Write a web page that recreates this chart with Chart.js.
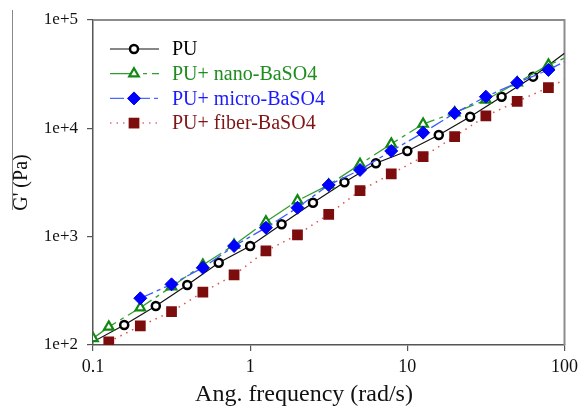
<!DOCTYPE html>
<html>
<head>
<meta charset="utf-8">
<script src="https://cdn.jsdelivr.net/npm/chart.js@4.4.0/dist/chart.umd.min.js"></script>
<style>
  html,body{margin:0;padding:0;background:#fff;}
  #wrap{position:relative;width:583px;height:408px;}
  #edge{position:absolute;left:12px;top:10px;width:1px;height:200px;background:#888;}
</style>
</head>
<body>
<div id="wrap"><canvas id="chart" width="583" height="408"></canvas><div id="edge"></div></div>
<script>
const seriesNames = ['PU', 'PU+ nano-BaSO4', 'PU+ micro-BaSO4', 'PU+ fiber-BaSO4'];
const xTitle = 'Ang. frequency (rad/s)';
const yTitle = "G' (Pa)";

// angular frequency (rad/s) and G' (Pa) per series
const puFreq = [0.1, 0.158, 0.251, 0.398, 0.631, 1, 1.585, 2.51, 3.98, 6.31, 10, 15.85, 25.1, 39.8, 63.1, 100];
const puG    = [107, 153, 229, 358, 575, 820, 1300, 2060, 3180, 4760, 6180, 8690, 12800, 19600, 30000, 49300];

const nanoFreq = [0.1, 0.126, 0.2, 0.316, 0.5, 0.79, 1.26, 2, 3.16, 5, 7.9, 12.6, 20, 31.6, 50, 79, 100];
const nanoG    = [115, 147, 221, 345, 548, 838, 1375, 2150, 3000, 4660, 7180, 10960, 13960, 18300, 26400, 38500, 44400];

const microFreq = [0.2, 0.316, 0.5, 0.79, 1.26, 2, 3.16, 5, 7.9, 12.6, 20, 31.6, 50, 79, 100];
const microG    = [270, 363, 517, 820, 1210, 1850, 3000, 4130, 6180, 9120, 13800, 19600, 26400, 34600, 41300];

const fiberFreq = [0.126, 0.2, 0.316, 0.5, 0.79, 1.26, 2, 3.16, 5, 7.9, 12.6, 20, 31.6, 50, 79, 100];
const fiberG    = [107, 150, 203, 307, 443, 738, 1040, 1610, 2660, 3790, 5480, 8380, 13000, 17700, 23800, 28000];

const xTickValues = [0.1, 1, 10, 100];
const xTickLabels = ['0.1', '1', '10', '100'];
const yTickValues = [100, 1000, 10000, 100000];
const yTickLabels = ['1e+2', '1e+3', '1e+4', '1e+5'];

const SERIF = "'Liberation Serif', 'Times New Roman', serif";

function pts(xs, ys){ return xs.map((x,i)=>({x:x, y:ys[i]})); }
// marker hidden where the line only runs out to the frame
function radiusFn(r, hideFirst){
  return ctx => {
    const n = ctx.dataset.data.length;
    if(ctx.dataIndex === n-1) return 0;
    if(hideFirst && ctx.dataIndex === 0) return 0;
    return r;
  };
}

const markerSize = [4, 5.5, 6.5, 7.6];

const datasets = [
  { label: seriesNames[0], data: pts(puFreq, puG), order: 2,
    borderColor:'#111', borderWidth:1.2,
    pointStyle:'circle', pointRadius: radiusFn(markerSize[0], true), pointBorderWidth:2.5,
    pointBorderColor:'#000', pointBackgroundColor:'#fff',
    legendText:'#000', legendLine:'#111' },
  { label: seriesNames[1], data: pts(nanoFreq, nanoG), order: 1,
    borderColor:'#2f9e2f', borderWidth:1.3, borderDash:[28,5,4,5],
    pointStyle:'triangle', pointRadius: radiusFn(markerSize[1]), pointBorderWidth:2.2,
    pointBorderColor:'#118811', pointBackgroundColor:'#fff',
    legendText:'#1e8c1e', legendLine:'#2f9e2f' },
  { label: seriesNames[2], data: pts(microFreq, microG), order: 0,
    borderColor:'#3a5cff', borderWidth:1.3, borderDash:[14,4,4,4],
    pointStyle:'rectRot', pointRadius: radiusFn(markerSize[2]), pointBorderWidth:1,
    pointBorderColor:'#0000ee', pointBackgroundColor:'#0000ff',
    legendText:'#1a1aff', legendLine:'#4a6aff' },
  { label: seriesNames[3], data: pts(fiberFreq, fiberG), order: 3,
    borderColor:'#d9534f', borderWidth:1.5, borderDash:[1.5,5],
    pointStyle:'rect', pointRadius: radiusFn(markerSize[3]), pointBorderWidth:0,
    pointBorderColor:'#7d0c0c', pointBackgroundColor:'#7d0c0c',
    legendText:'#801515', legendLine:'#e07070' }
];

function drawMarker(ctx, style, x, y, r, fill, stroke, bw){
  ctx.save();
  ctx.beginPath();
  if(style === 'circle'){
    ctx.arc(x, y, r, 0, Math.PI*2);
  }else if(style === 'triangle'){
    for(let k=0;k<3;k++){
      const a = -Math.PI/2 + k*2*Math.PI/3;
      const px = x + Math.cos(a)*r, py = y + Math.sin(a)*r;
      k ? ctx.lineTo(px, py) : ctx.moveTo(px, py);
    }
    ctx.closePath();
  }else if(style === 'rectRot'){
    ctx.moveTo(x, y-r); ctx.lineTo(x+r, y); ctx.lineTo(x, y+r); ctx.lineTo(x-r, y); ctx.closePath();
  }else{
    const s = r*Math.SQRT1_2;
    ctx.rect(x-s, y-s, 2*s, 2*s);
  }
  ctx.fillStyle = fill; ctx.fill();
  if(bw){ ctx.lineWidth = bw; ctx.strokeStyle = stroke; ctx.stroke(); }
  ctx.restore();
}

const framePlugin = {
  id:'frame',
  beforeDatasetsDraw(chart){
    const {ctx, chartArea:a} = chart;
    ctx.save();
    ctx.strokeStyle = '#8c8c8c';
    ctx.lineWidth = 2;
    ctx.beginPath();
    ctx.moveTo(a.left, a.top); ctx.lineTo(a.right, a.top); ctx.lineTo(a.right, a.bottom);
    ctx.stroke();
    ctx.restore();
  },
  afterDraw(chart){
    // x title sits a little left of the plot centre in the original
    const {ctx, chartArea:a} = chart;
    ctx.save();
    ctx.font = '24px ' + SERIF;
    ctx.fillStyle = '#111';
    ctx.textAlign = 'center';
    ctx.textBaseline = 'alphabetic';
    ctx.fillText(xTitle, a.left + 211, a.bottom + 56);
    ctx.restore();
  }
};

const legendPlugin = {
  id:'innerLegend',
  afterDatasetsDraw(chart){
    const {ctx, chartArea:a} = chart;
    const x0 = a.left + 17, x1 = a.left + 66, xm = a.left + 41, xt = a.left + 79;
    chart.data.datasets.forEach((ds, i) => {
      const y = a.top + 29 + i*24.7;
      ctx.save();
      ctx.strokeStyle = ds.legendLine;
      ctx.lineWidth = ds.borderWidth;
      ctx.setLineDash(ds.borderDash || []);
      ctx.beginPath(); ctx.moveTo(x0, y); ctx.lineTo(x1, y); ctx.stroke();
      ctx.restore();
      drawMarker(ctx, ds.pointStyle, xm, y, markerSize[i],
                 ds.pointBackgroundColor, ds.pointBorderColor, ds.pointBorderWidth);
      ctx.save();
      ctx.font = '20px ' + SERIF;
      ctx.fillStyle = ds.legendText;
      ctx.textBaseline = 'middle';
      ctx.fillText(ds.label, xt, y + 1);
      ctx.restore();
    });
  }
};

new Chart(document.getElementById('chart'), {
  type: 'line',
  data: { datasets: datasets },
  options: {
    responsive: false,
    animation: false,
    layout: { padding: { top: 20, right: 16, left: 0, bottom: 0 } },
    elements: { line: { tension: 0 } },
    plugins: { legend: { display: false }, tooltip: { enabled: false } },
    scales: {
      x: {
        type: 'logarithmic', min: 0.1, max: 100,
        afterBuildTicks: s => { s.ticks = xTickValues.map(v => ({ value: v })); },
        afterFit: s => { s.height = 63; },
        ticks: { callback: (v, i) => xTickLabels[i], color: '#111', padding: 5,
                 font: { family: SERIF, size: 18 }, maxRotation: 0, autoSkip: false },
        grid: { drawOnChartArea: false, drawTicks: true, tickLength: 6, color: '#555', lineWidth: 1.2 },
        border: { display: true, color: '#555', width: 1.5 },
        title: { display: false }
      },
      y: {
        type: 'logarithmic', min: 100, max: 100000,
        afterBuildTicks: s => { s.ticks = yTickValues.map(v => ({ value: v })); },
        afterFit: s => { s.width = 93; },
        ticks: { callback: (v, i) => yTickLabels[i], color: '#111', padding: 9,
                 font: { family: SERIF, size: 17 }, autoSkip: false },
        grid: { drawOnChartArea: false, drawTicks: true, tickLength: 6, color: '#555', lineWidth: 1.2 },
        border: { display: true, color: '#555', width: 1.5 },
        title: { display: true, text: yTitle, color: '#111',
                 font: { family: SERIF, size: 20 }, padding: { top: 10, bottom: 0 } }
      }
    }
  },
  plugins: [framePlugin, legendPlugin]
});
</script>
</body>
</html>
